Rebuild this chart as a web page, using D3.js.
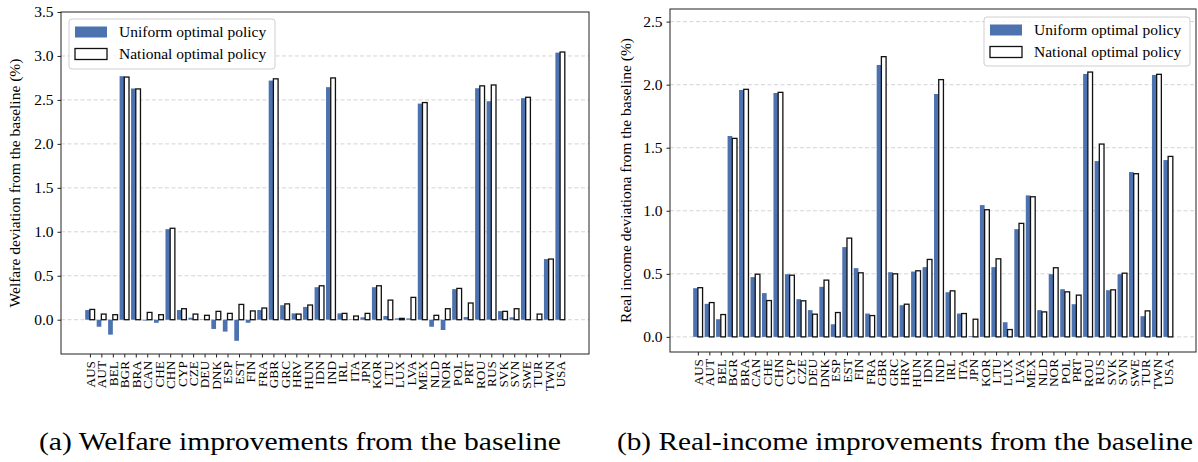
<!DOCTYPE html>
<html>
<head>
<meta charset="utf-8">
<script src="https://cdn.jsdelivr.net/npm/d3@7"></script>
<style>
  body { margin: 0; background: #fff; }
  svg text { font-family: "Liberation Serif", "Times New Roman", serif; fill: #000; }
</style>
</head>
<body>
<svg id="chart" width="1198" height="462"></svg>
<script>
const countries = ['AUS','AUT','BEL','BGR','BRA','CAN','CHE','CHN','CYP','CZE','DEU','DNK','ESP','EST',
  'FIN','FRA','GBR','GRC','HRV','HUN','IDN','IND','IRL','ITA','JPN','KOR','LTU','LUX','LVA','MEX',
  'NLD','NOR','POL','PRT','ROU','RUS','SVK','SVN','SWE','TUR','TWN','USA'];

// (a) welfare deviation (%)
const welfareUniform = [0.11, -0.08, -0.17, 2.77, 2.63, -0.01, -0.035, 1.03, 0.11, 0.023, 0.005, -0.105, -0.135, -0.24,
  -0.035, 0.11, 2.72, 0.165, 0.072, 0.145, 0.37, 2.645, 0.072, 0.005, 0.027, 0.37, 0.042, 0.015, 0.015, 2.458,
  -0.08, -0.117, 0.348, 0.03, 2.633, 2.485, 0.098, 0.027, 2.52, 0.005, 0.69, 3.038];
const welfareNational = [0.117, 0.064, 0.057, 2.76, 2.625, 0.083, 0.057, 1.04, 0.125, 0.064, 0.05, 0.095, 0.072, 0.174,
  0.10, 0.133, 2.74, 0.18, 0.064, 0.167, 0.386, 2.75, 0.072, 0.042, 0.072, 0.386, 0.223, 0.015, 0.254, 2.47,
  0.05, 0.125, 0.356, 0.19, 2.66, 2.67, 0.095, 0.125, 2.53, 0.064, 0.69, 3.045];

// (b) real income deviation (%)
const incomeUniform = [0.386, 0.262, 0.14, 1.593, 1.958, 0.474, 0.347, 1.934, 0.497, 0.299, 0.212, 0.397, 0.10, 0.712,
  0.545, 0.185, 2.156, 0.513, 0.251, 0.518, 0.553, 1.926, 0.354, 0.185, 0.005, 1.045, 0.553, 0.116, 0.854, 1.122,
  0.212, 0.497, 0.378, 0.259, 2.085, 1.394, 0.37, 0.497, 1.307, 0.164, 2.077, 1.402];
const incomeNational = [0.39, 0.272, 0.177, 1.574, 1.963, 0.497, 0.288, 1.939, 0.489, 0.286, 0.18, 0.45, 0.193, 0.783,
  0.508, 0.169, 2.222, 0.5, 0.259, 0.524, 0.614, 2.04, 0.365, 0.185, 0.14, 1.008, 0.619, 0.058, 0.9, 1.111,
  0.198, 0.548, 0.357, 0.331, 2.1, 1.529, 0.373, 0.505, 1.294, 0.206, 2.082, 1.431];

const welfareTicks = [0, 0.5, 1.0, 1.5, 2.0, 2.5, 3.0, 3.5];
const incomeTicks = [0, 0.5, 1.0, 1.5, 2.0, 2.5];
const seriesNames = ['Uniform optimal policy', 'National optimal policy'];

const svg = d3.select('#chart');
const blue = '#4c72b0';

function drawPanel(cfg) {
  const g = svg.append('g');
  const x = d3.scalePoint(countries, [cfg.left, cfg.right]).padding(cfg.pad);
  const y = d3.scaleLinear(cfg.yDomain, [cfg.bottom, cfg.top]);
  const bw = x.step() * 0.41;

  // grid
  g.append('g').selectAll('line').data(cfg.ticks.filter(t => y(t) > cfg.top + 1)).join('line')
    .attr('x1', cfg.left).attr('x2', cfg.right)
    .attr('y1', d => y(d)).attr('y2', d => y(d))
    .attr('stroke', '#d4d4d4').attr('stroke-width', 1).attr('stroke-dasharray', '4,2.5');

  // bars
  g.append('g').selectAll('rect').data(countries).join('rect')
    .attr('x', (d) => x(d) - bw)
    .attr('width', bw)
    .attr('y', (d, i) => y(Math.max(0, cfg.a[i])))
    .attr('height', (d, i) => Math.abs(y(cfg.a[i]) - y(0)))
    .attr('fill', blue);
  g.append('g').selectAll('rect').data(countries).join('rect')
    .attr('x', (d) => x(d))
    .attr('width', bw)
    .attr('y', (d, i) => y(Math.max(0, cfg.b[i])))
    .attr('height', (d, i) => Math.abs(y(cfg.b[i]) - y(0)))
    .attr('fill', '#fff').attr('stroke', '#111').attr('stroke-width', 1.3);

  // axes
  const yAxis = d3.axisLeft(y).tickValues(cfg.ticks).tickFormat(d3.format('.1f')).tickSize(3.5).tickPadding(4);
  const ya = g.append('g').attr('transform', `translate(${cfg.left},0)`).call(yAxis);
  ya.select('.domain').remove();
  ya.selectAll('line').attr('stroke', '#222');
  ya.selectAll('text').attr('font-size', 15.5).attr('font-family', '"Liberation Serif", serif');

  const xAxis = d3.axisBottom(x).tickSize(3.5).tickPadding(3);
  const xa = g.append('g').attr('transform', `translate(0,${cfg.bottom})`).call(xAxis);
  xa.select('.domain').remove();
  xa.selectAll('line').attr('stroke', '#222');
  xa.selectAll('text')
    .attr('font-size', 13.3).attr('font-family', '"Liberation Serif", serif')
    .attr('transform', 'rotate(-90)')
    .attr('text-anchor', 'end')
    .attr('x', -7).attr('y', 0).attr('dy', '0.33em');

  // frame
  g.append('rect').attr('x', cfg.left).attr('y', cfg.top)
    .attr('width', cfg.right - cfg.left).attr('height', cfg.bottom - cfg.top)
    .attr('fill', 'none').attr('stroke', '#222').attr('stroke-width', 1);

  // y label
  g.append('text')
    .attr('transform', `translate(${cfg.ylabelX},${(cfg.top + cfg.bottom) / 2}) rotate(-90)`)
    .attr('text-anchor', 'middle').attr('font-size', 15.5)
    .text(cfg.ylabel);

  // legend
  const L = cfg.legend;
  const lg = g.append('g').attr('transform', `translate(${L.x},${L.y})`);
  lg.append('rect').attr('width', L.w).attr('height', L.h).attr('rx', 3)
    .attr('fill', '#fff').attr('fill-opacity', 0.8).attr('stroke', '#cfcfcf');
  seriesNames.forEach((name, i) => {
    const cy = 13 + i * 22;
    lg.append('rect').attr('x', 6).attr('y', cy - 5.5).attr('width', 32).attr('height', 11)
      .attr('fill', i === 0 ? blue : '#fff')
      .attr('stroke', i === 0 ? 'none' : '#111').attr('stroke-width', 1.3);
    lg.append('text').attr('x', 50).attr('y', cy).attr('dy', '0.35em')
      .attr('font-size', 15.5).text(name);
  });

  // caption
  svg.append('text').attr('x', cfg.capX).attr('y', 450).attr('text-anchor', 'middle')
    .attr('font-size', 25)
    .attr('textLength', cfg.capW).attr('lengthAdjust', 'spacingAndGlyphs')
    .text(cfg.caption);
}

drawPanel({
  left: 61, right: 589, top: 12, bottom: 354, pad: 2.52,
  yDomain: [-0.39, 3.5], ticks: welfareTicks,
  a: welfareUniform, b: welfareNational,
  ylabel: 'Welfare deviation from the baseline (%)', ylabelX: 20,
  legend: { x: 69, y: 19, w: 206, h: 50 },
  caption: '(a) Welfare improvements from the baseline', capX: 300, capW: 522
});

drawPanel({
  left: 670, right: 1196, top: 9, bottom: 352, pad: 2.43,
  yDomain: [-0.12, 2.6], ticks: incomeTicks,
  a: incomeUniform, b: incomeNational,
  ylabel: 'Real income deviationa from the baseline (%)', ylabelX: 631,
  legend: { x: 984, y: 17, w: 206, h: 49 },
  caption: '(b) Real-income improvements from the baseline', capX: 905, capW: 576
});
</script>
</body>
</html>
